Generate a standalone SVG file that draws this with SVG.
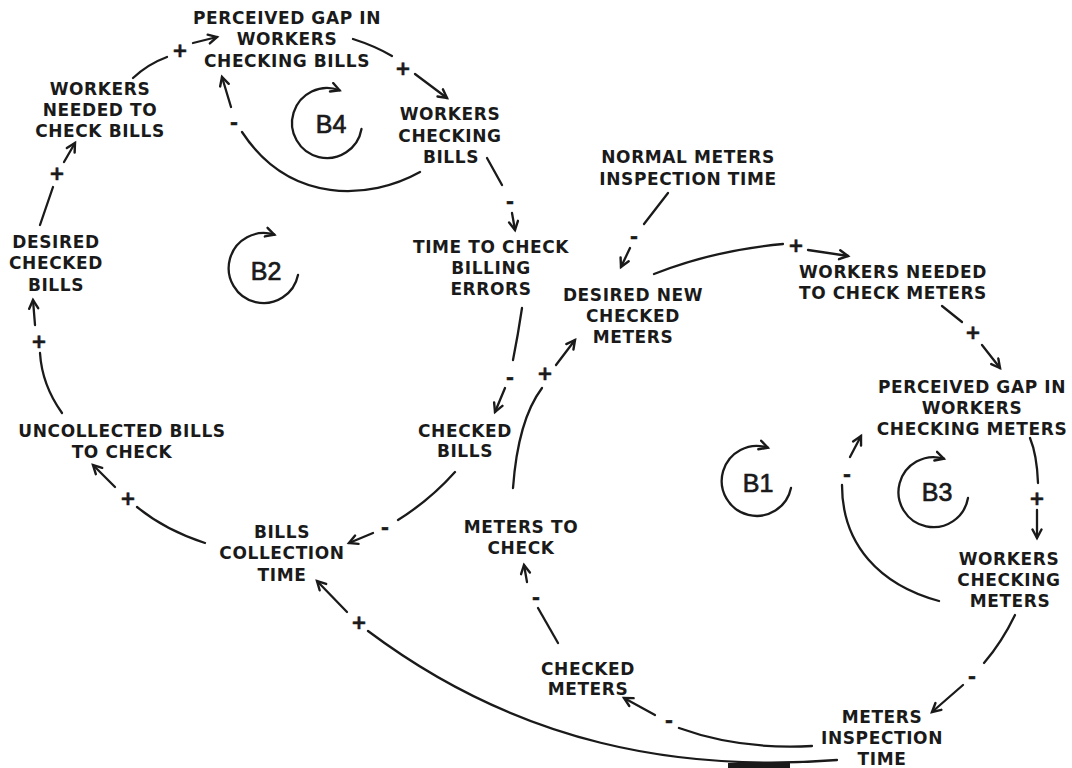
<svg xmlns="http://www.w3.org/2000/svg" width="1072" height="768" viewBox="0 0 1072 768">
<defs>
<style>
.lbl{font-family:"DejaVu Sans","Liberation Sans",sans-serif;font-weight:bold;font-size:17px;letter-spacing:0.6px;fill:#1a1a1a;text-anchor:middle}
.sg{font-family:"DejaVu Sans","Liberation Sans",sans-serif;font-weight:bold;font-size:19px;fill:#1a1a1a;stroke:#1a1a1a;stroke-width:0.6;text-anchor:middle}
.loop{font-family:"Liberation Sans",Arial,sans-serif;font-size:25px;fill:#1a1a1a;stroke:#1a1a1a;stroke-width:0.7;text-anchor:middle}
.ln{fill:none;stroke:#1a1a1a;stroke-width:2.3;stroke-linecap:round}
.ar{fill:none;stroke:#1a1a1a;stroke-width:2.3;stroke-linecap:round;marker-end:url(#ah)}
</style>
<marker id="ah" markerUnits="userSpaceOnUse" markerWidth="14" markerHeight="14" refX="10" refY="6" orient="auto">
<path d="M1.5,1.5 L10,6 L1.5,10.5" fill="none" stroke="#1a1a1a" stroke-width="2.4" stroke-linecap="round" stroke-linejoin="miter"/>
</marker>
</defs>
<rect width="1072" height="768" fill="#ffffff"/>

<g id="n_pgb"><text class="lbl"><tspan x="287" y="24">PERCEIVED GAP IN</tspan><tspan x="287" y="45">WORKERS</tspan><tspan x="287" y="67">CHECKING BILLS</tspan></text></g>
<g id="n_wncb"><text class="lbl"><tspan x="100" y="95">WORKERS</tspan><tspan x="100" y="116">NEEDED TO</tspan><tspan x="100" y="137">CHECK BILLS</tspan></text></g>
<g id="n_dcb"><text class="lbl"><tspan x="56" y="248">DESIRED</tspan><tspan x="56" y="269">CHECKED</tspan><tspan x="56" y="291">BILLS</tspan></text></g>
<g id="n_ubc"><text class="lbl"><tspan x="122" y="437">UNCOLLECTED BILLS</tspan><tspan x="122" y="458">TO CHECK</tspan></text></g>
<g id="n_bct"><text class="lbl"><tspan x="282" y="538">BILLS</tspan><tspan x="282" y="559">COLLECTION</tspan><tspan x="282" y="581">TIME</tspan></text></g>
<g id="n_wcb"><text class="lbl"><tspan x="450" y="120">WORKERS</tspan><tspan x="450" y="142">CHECKING</tspan><tspan x="451" y="163">BILLS</tspan></text></g>
<g id="n_nmit"><text class="lbl"><tspan x="688" y="163">NORMAL METERS</tspan><tspan x="688" y="185">INSPECTION TIME</tspan></text></g>
<g id="n_ttc"><text class="lbl"><tspan x="491" y="253">TIME TO CHECK</tspan><tspan x="491" y="274">BILLING</tspan><tspan x="491" y="295">ERRORS</tspan></text></g>
<g id="n_dncm"><text class="lbl"><tspan x="633" y="301">DESIRED NEW</tspan><tspan x="633" y="322">CHECKED</tspan><tspan x="633" y="343">METERS</tspan></text></g>
<g id="n_wncm"><text class="lbl"><tspan x="893" y="278">WORKERS NEEDED</tspan><tspan x="893" y="299">TO CHECK METERS</tspan></text></g>
<g id="n_pgm"><text class="lbl"><tspan x="972" y="393">PERCEIVED GAP IN</tspan><tspan x="972" y="414">WORKERS</tspan><tspan x="972" y="435">CHECKING METERS</tspan></text></g>
<g id="n_cb"><text class="lbl"><tspan x="465" y="437">CHECKED</tspan><tspan x="465" y="457">BILLS</tspan></text></g>
<g id="n_mtc"><text class="lbl"><tspan x="521" y="533">METERS TO</tspan><tspan x="521" y="554">CHECK</tspan></text></g>
<g id="n_wcm"><text class="lbl"><tspan x="1009" y="565">WORKERS</tspan><tspan x="1009" y="586">CHECKING</tspan><tspan x="1010" y="607">METERS</tspan></text></g>
<g id="n_cm"><text class="lbl"><tspan x="588" y="675">CHECKED</tspan><tspan x="588" y="695">METERS</tspan></text></g>
<g id="n_mit"><text class="lbl"><tspan x="882" y="723">METERS</tspan><tspan x="882" y="744">INSPECTION</tspan><tspan x="882" y="765">TIME</tspan></text></g>

<g id="loop_B4"><path class="ar" d="M361.5,129 A35,35 0 1 1 339.5,90.3"/><text class="loop" x="331" y="133">B4</text></g>
<g id="loop_B2"><path class="ar" d="M298,275 A35,35 0 1 1 274.3,234.7"/><text class="loop" x="266" y="280">B2</text></g>
<g id="loop_B1"><path class="ar" d="M791,488 A35,35 0 1 1 767.8,447.7"/><text class="loop" x="758" y="492">B1</text></g>
<g id="loop_B3"><path class="ar" d="M968,498 A35,35 0 1 1 943.8,458.7"/><text class="loop" x="937" y="501">B3</text></g>

<g id="connectors">
<path class="ln" d="M40,225 L53,187"/><text class="sg" x="57" y="180">+</text><path class="ar" d="M64,162 L75,143"/>
<path class="ln" d="M133,78 Q148,64 167,57"/><text class="sg" x="180" y="57">+</text><path class="ar" d="M193,43 L217,37"/>
<path class="ln" d="M353,39 Q375,46 392,56"/><text class="sg" x="403" y="75">+</text><path class="ar" d="M415,74 L447,98"/>
<path class="ln" d="M420,172 C370,200 290,205 242,132"/><text class="sg" x="234" y="129">-</text><path class="ar" d="M231,107 L222,77"/>
<path class="ln" d="M487,158 L502,185"/><text class="sg" x="510" y="208">-</text><path class="ar" d="M512,213 L515,230"/>
<path class="ln" d="M668,193 L644,224"/><text class="sg" x="634" y="243">-</text><path class="ar" d="M630,248 L621,267"/>
<path class="ln" d="M522,308 Q518,335 513,360"/><text class="sg" x="510" y="384">-</text><path class="ar" d="M505,388 L495,412"/>
<path class="ln" d="M513,488 Q518,420 542,388"/><text class="sg" x="545" y="380">+</text><path class="ar" d="M556,365 L575,340"/>
<path class="ln" d="M654,274 Q715,250 783,244"/><text class="sg" x="796" y="252">+</text><path class="ar" d="M808,250 L848,256"/>
<path class="ln" d="M942,306 L962,322"/><text class="sg" x="973" y="339">+</text><path class="ar" d="M982,345 L1000,368"/>
<path class="ln" d="M1030,438 Q1037,455 1038,483"/><text class="sg" x="1037" y="505">+</text><path class="ar" d="M1037,510 L1037,538"/>
<path class="ln" d="M939,601 C880,585 842,545 842,485"/><text class="sg" x="847" y="481">-</text><path class="ar" d="M850,457 L861,436"/>
<path class="ln" d="M1015,615 Q1002,642 984,663"/><text class="sg" x="972" y="683">-</text><path class="ar" d="M963,685 L932,712"/>
<path class="ln" d="M812,746 Q740,750 679,728"/><text class="sg" x="669" y="727">-</text><path class="ar" d="M655,715 L624,698"/>
<path class="ln" d="M558,643 L538,608"/><text class="sg" x="536" y="604">-</text><path class="ar" d="M527,582 L524,565"/>
<path class="ln" d="M837,760 C680,772 520,745 368,631"/><text class="sg" x="359" y="629">+</text><path class="ar" d="M347,612 L317,581"/>
<path class="ln" d="M455,472 Q430,500 398,520"/><text class="sg" x="385" y="534">-</text><path class="ar" d="M373,533 L349,543"/>
<path class="ln" d="M205,543 Q165,530 137,507"/><text class="sg" x="128" y="505">+</text><path class="ar" d="M115,487 L93,465"/>
<path class="ln" d="M62,413 Q42,385 40,353"/><text class="sg" x="39" y="348">+</text><path class="ar" d="M35,325 L33,300"/>
</g>
<rect x="728" y="763" width="62" height="5" fill="#1a1a1a"/>
</svg>
